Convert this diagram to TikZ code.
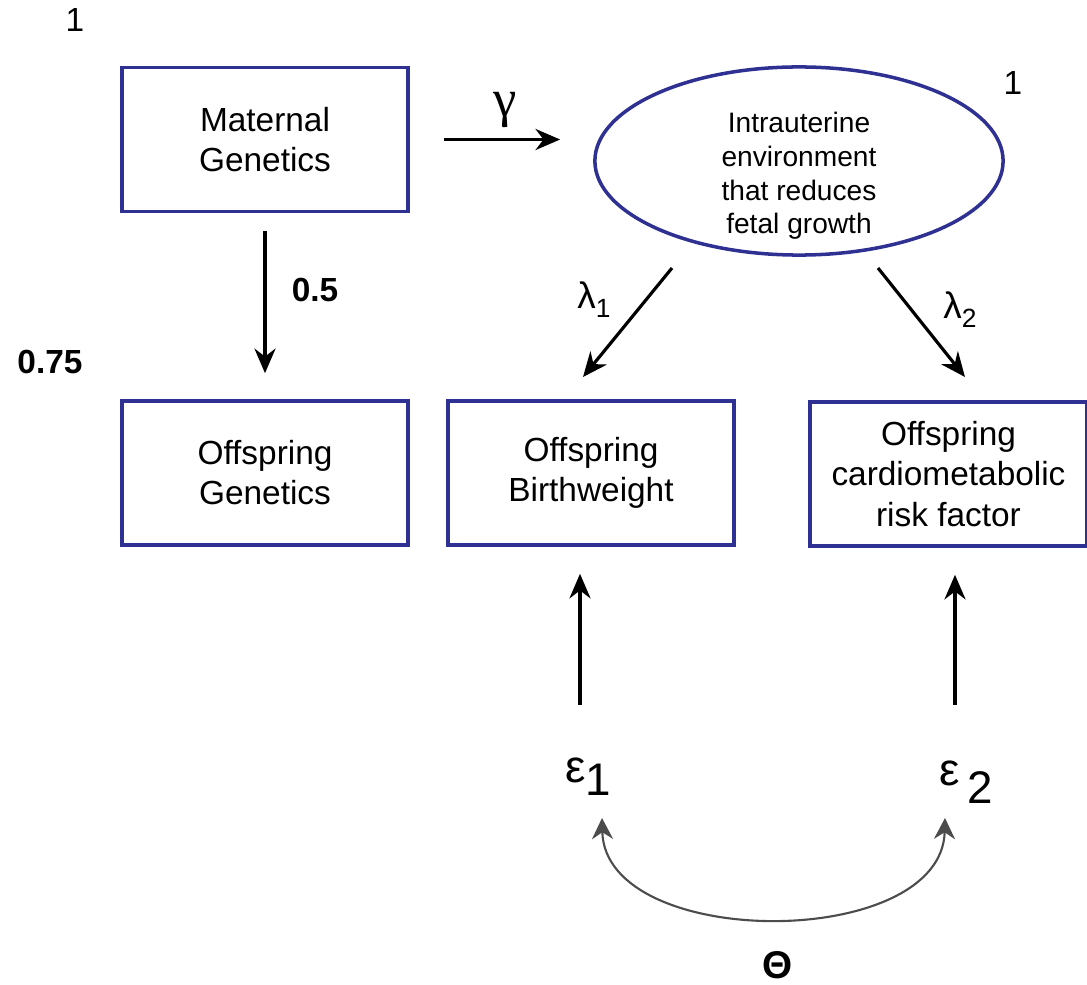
\documentclass[tikz,border=0pt]{standalone}
\usepackage{fontspec}
\setmainfont{Liberation Sans}
\newfontfamily\greekserif{Liberation Serif}
\usetikzlibrary{arrows.meta,shapes.geometric}
\definecolor{boxblue}{RGB}{46,49,146}
\tikzset{
  varbox/.style={draw=boxblue,line width=1pt,minimum width=2.86cm,minimum height=1.44cm,
    inner sep=1pt,align=center,font=\fontsize{9.5}{11.4}\selectfont},
  latent/.style={ellipse,draw=boxblue,line width=1pt,minimum width=4.08cm,minimum height=1.88cm,
    inner sep=0pt},
  effect/.style={-{Stealth[length=7pt,width=6pt]},line width=0.9pt},
  covar/.style={{Stealth[length=6pt,width=6pt]}-{Stealth[length=6pt,width=6pt]},line width=0.6pt,black!70},
  coef/.style={font=\fontsize{9.5}{11}\selectfont},
  bigsym/.style={font=\fontsize{13}{13}\selectfont}
}
\begin{document}
\begin{tikzpicture}[x=0.01cm,y=-0.01cm]
\useasboundingbox (0,0) rectangle (1087,985);
% observed and latent variables
\node[varbox] (matgen) at (265,139.5) {Maternal\\Genetics};
\node[latent] (iue) at (799,161) {};
\node[align=center,font=\fontsize{8}{9.6}\selectfont] (iuetext) at (799,176) {Intrauterine\\environment\\that reduces\\fetal growth};
\node[varbox] (offgen) at (265,473) {Offspring\\Genetics};
\node[varbox] (offbw) at (591,473) {Offspring\\Birthweight};
\node[varbox,minimum width=2.77cm] (offcm) at (948.5,474) {Offspring\\cardiometabolic\\risk factor};
% variances
\node[coef] (varmat) at (75,20) {1};
\node[coef] (variue) at (1013,83) {1};
\node[coef,font=\fontsize{9.5}{11}\selectfont\bfseries] (vargen) at (50,362) {0.75};
% paths
\draw[effect] ([xshift=0.34cm]matgen.east) -- ([xshift=-0.33cm]matgen.east -| iue.west);
\node[font=\fontsize{15}{15}\greekserif] (gamma) at (505,110) {γ};
\draw[effect,shorten <=0.18cm,shorten >=0.26cm] (matgen.south) -- (offgen.north);
\node[coef,font=\fontsize{9.5}{11}\selectfont\bfseries] (half) at (315,290) {0.5};
\coordinate (lone) at (672,268);
\coordinate (ltwo) at (878,268);
\draw[effect] (lone) -- (583,377);
\draw[effect] (ltwo) -- (965,377);
\node[font=\fontsize{10.5}{11}\selectfont] (lam1) at (594,300) {λ\raisebox{-0.45ex}{\fontsize{7.5}{8}\selectfont 1}};
\node[font=\fontsize{10.5}{11}\selectfont] (lam2) at (960,310) {λ\raisebox{-0.45ex}{\fontsize{7.5}{8}\selectfont 2}};
% residuals
\node[bigsym] (e1) at (588,777) {ε\raisebox{-0.55ex}{1}};
\node[bigsym] (e2) at (966,782) {ε\,\raisebox{-0.75ex}{2}};
\coordinate (eonetop) at (580,705);
\coordinate (etwotop) at (955,705);
\draw[effect,shorten >=0.27cm] (eonetop) -- (eonetop |- offbw.south);
\draw[effect,shorten >=0.27cm] (etwotop) -- (etwotop |- offcm.south);
% residual covariance
\coordinate (cone) at (602,818);
\coordinate (ctwo) at (945,818);
\draw[covar] (cone) .. controls (605,951) and (942,951) .. (ctwo);
\node[font=\fontsize{11}{11}\selectfont\bfseries] (theta) at (778,965) {Θ};
\end{tikzpicture}
\end{document}
